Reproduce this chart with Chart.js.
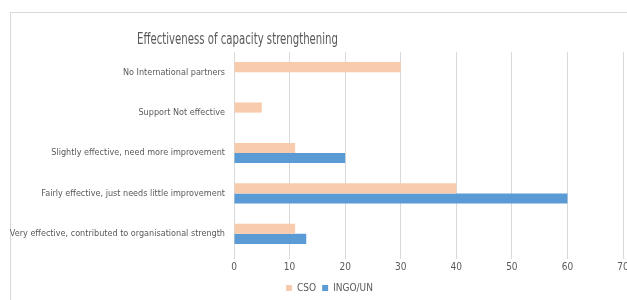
<!DOCTYPE html>
<html>
<head>
<meta charset="utf-8">
<script src="https://cdn.jsdelivr.net/npm/chart.js@4.4.1/dist/chart.umd.min.js"></script>
<style>
  html, body { margin: 0; background: #fff; overflow: hidden; }
  #frame { position: absolute; left: 10px; top: 12px; width: 640px; height: 300px; border-left: 1px solid #d9d9d9; border-top: 1px solid #d9d9d9; }
  #wrap { position: absolute; left: 0; top: 0; width: 627px; height: 300px; }
</style>
</head>
<body>
<div id="frame"></div>
<div id="wrap"><canvas id="chart"></canvas></div>
<script>
// Chart data
const categories = [
  'No International partners',
  'Support Not effective',
  'Slightly effective, need more improvement',
  'Fairly effective, just needs little improvement',
  'Very effective, contributed to organisational strength'
];
const csoValues = [30, 5, 11, 40, 11];
const ingoValues = [null, null, 20, 60, 13];
const xMax = 70;
const xStep = 10;

const textColor = '#595959';
const fontFamily = '"Liberation Sans Narrow", "DejaVu Sans Condensed", Roboto, sans-serif';

// Title drawn left of centre and narrow, like the original
const titlePlugin = {
  id: 'offsetTitle',
  afterDraw(chart) {
    const ctx = chart.ctx;
    const text = 'Effectiveness of capacity strengthening';
    ctx.save();
    ctx.font = '15px ' + fontFamily;
    ctx.fillStyle = textColor;
    ctx.textBaseline = 'middle';
    ctx.textAlign = 'left';
    const w = ctx.measureText(text).width;
    const k = Math.min(1, 201 / w);
    ctx.translate(137, 40);
    ctx.scale(k, 1);
    ctx.fillText(text, 0, 0);
    ctx.restore();
  }
};

// legend sits a little right of centre in the original
const legendShift = {
  id: 'legendShift',
  afterLayout(chart) {
    chart.legend.left += 16;
    chart.legend.right += 16;
  }
};

const ctx = document.getElementById('chart').getContext('2d');
new Chart(ctx, {
  type: 'bar',
  data: {
    labels: categories,
    datasets: [
      { label: 'CSO', data: csoValues, backgroundColor: '#F8CBAD' },
      { label: 'INGO/UN', data: ingoValues, backgroundColor: '#5B9BD5' }
    ]
  },
  options: {
    indexAxis: 'y',
    responsive: true,
    maintainAspectRatio: false,
    animation: false,
    layout: { padding: { left: 0, right: 0, top: 52, bottom: -3 } },
    datasets: { bar: { categoryPercentage: 0.5, barPercentage: 1 } },
    scales: {
      x: {
        min: 0,
        max: xMax,
        ticks: { stepSize: xStep, color: textColor, padding: 2, font: { family: fontFamily, size: 10 } },
        grid: { color: '#d9d9d9', tickLength: 5, drawTicks: true },
        border: { display: false },
        afterFit(s) {
          s.height = 300 - 254 + 3 - s.chart.legend.height;
          s.paddingRight = 4;
        }
      },
      y: {
        ticks: { color: textColor, padding: 9, font: { family: fontFamily, size: 9 } },
        grid: { display: false, drawTicks: false },
        border: { display: false },
        afterFit(s) { s.width = 234; }
      }
    },
    plugins: {
      legend: {
        position: 'bottom',
        labels: { boxWidth: 6, boxHeight: 6, padding: 6, color: textColor, font: { family: fontFamily, size: 10 } }
      },
      tooltip: { enabled: false }
    }
  },
  plugins: [titlePlugin, legendShift]
});
</script>
</body>
</html>
